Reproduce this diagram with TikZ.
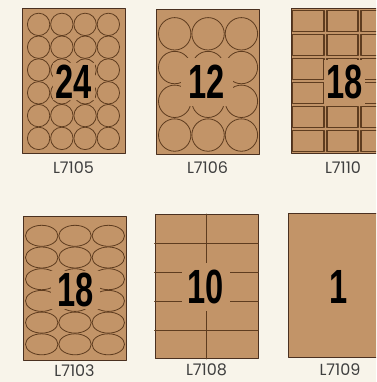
\documentclass[tikz,border=0pt]{standalone}
\usepackage{fontspec}
\newfontfamily\codefont{Poppins}
\newfontfamily\countfont{Liberation Sans}
\definecolor{cream}{HTML}{F8F4EA}
\definecolor{kraft}{HTML}{C29468}
\definecolor{kraftline}{HTML}{5E3C1F}
\definecolor{sheetedge}{HTML}{4A3020}
\definecolor{codegray}{HTML}{3F3F3F}
\newcommand{\sheetnum}[1]{\scalebox{0.68}[1]{#1}}
\tikzset{
  every picture/.style={line join=round, line cap=round},
  sheet/.style={draw=sheetedge, fill=kraft, line width=1pt, minimum width=103pt, minimum height=144pt, inner sep=0pt},
  cut/.style={draw=kraftline, line width=0.8pt},
  cell/.style={draw=kraftline, line width=1.4pt},
  count/.style={fill=kraft, inner xsep=3pt, inner ysep=2pt, font=\countfont\bfseries\fontsize{48}{48}\selectfont},
  code/.style={text=codegray, font=\codefont\fontsize{16}{16}\selectfont},
}

\begin{document}
\begin{tikzpicture}[x=1pt,y=-1pt]
\clip (0,0) rectangle (376,382);
\fill[cream] (0,0) rectangle (376,382);
% top row
\node[sheet] (s1) at (73.5,81) {};
\foreach \i in {0,...,3}
  \foreach \j in {0,...,5}
    \draw[cut] (38.6+23.25*\i,24.4+22.8*\j) circle[radius=11.2pt];
\node[count] (n1) at (74,81.5) {\sheetnum{24}};
\node[code] (c1) at (73.5,168) {L7105};
\node[sheet] (s2) at (207.5,82) {};
\foreach \i in {0,...,2}
  \foreach \j in {0,...,3}
    \draw[cut] (174.7+33.35*\i,33.8+33.75*\j) circle[radius=16.2pt];
\node[count, inner xsep=8pt, inner ysep=7pt] (n2) at (207,82) {\sheetnum{12}};
\node[code] (c2) at (207.5,168) {L7106};
\node[sheet] (s3) at (342.5,81) {};
\foreach \i in {0,...,2}
  \foreach \j in {0,...,5}
    \draw[cell] (292.5+34.3*\i,10.5+24*\j) rectangle (289.5+34.3*\i+34.3,7.5+24*\j+24);
\node[count, inner xsep=2pt, inner ysep=5pt] (n3) at (344.5,82) {\sheetnum{18}};
\node[code] (c3) at (343,168) {L7110};
% bottom row
\node[sheet] (s4) at (74.5,288) {};
\foreach \i in {0,...,2}
  \foreach \j in {0,...,5}
    \draw[cut] (41.7+33.3*\i,235.8+21.7*\j) ellipse[x radius=16.2pt, y radius=10.5pt];
\node[count, inner xsep=6pt] (n4) at (75.5,290) {\sheetnum{18}};
\node[code] (c4) at (74.5,371) {L7103};
\node[sheet] (s5) at (206.5,286.5) {};
\draw[cut] (s5.north) -- (s5.south);
\foreach \y in {243,272,301,330}
  \draw[cut] (s5.west |- 0,\y) -- (s5.east |- 0,\y);
\node[count, inner xsep=6pt, inner ysep=7pt] (n5) at (206,287) {\sheetnum{10}};
\node[code] (c5) at (206.5,370) {L7108};
\node[sheet] (s6) at (340,285) {};
\node[count] (n6) at (339,287) {\sheetnum{1}};
\node[code] (c6) at (340,370) {L7109};
\end{tikzpicture}
\end{document}
